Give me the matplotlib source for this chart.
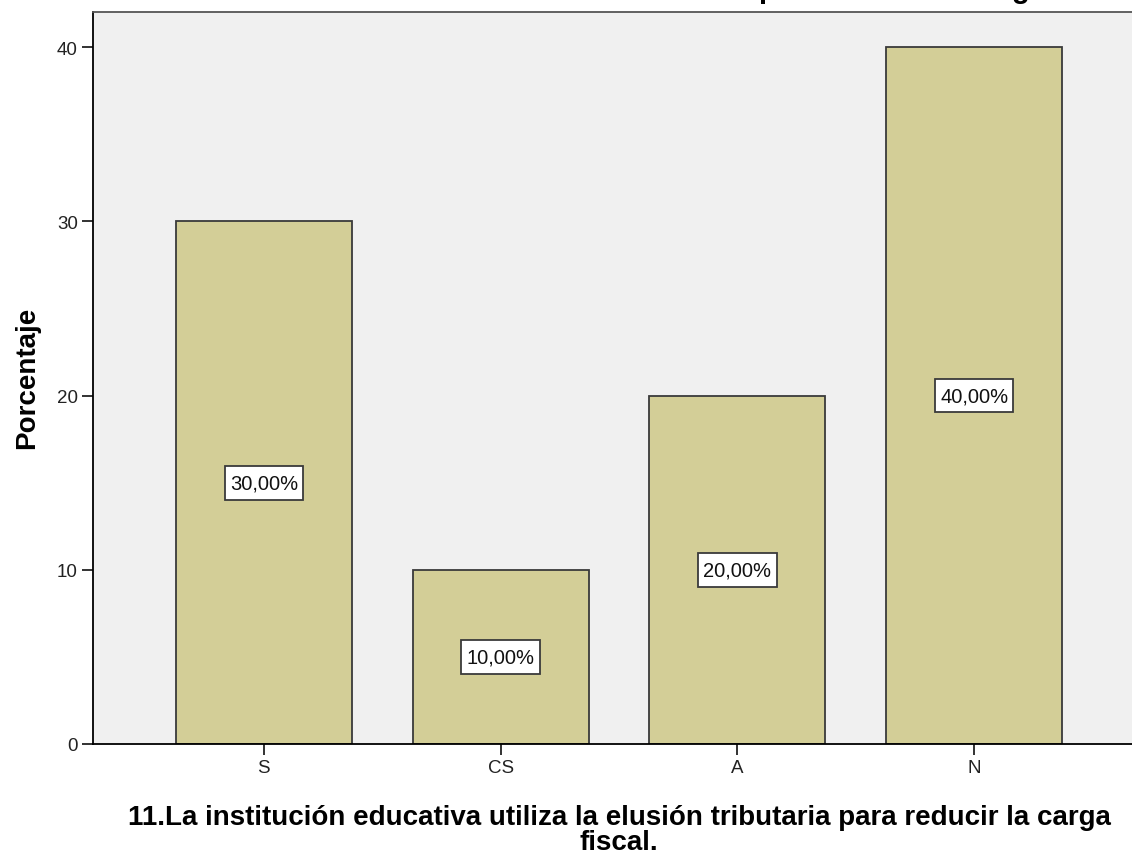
import matplotlib
matplotlib.use("Agg")
import matplotlib.pyplot as plt
from matplotlib.path import Path

categories = ["S", "CS", "A", "N"]
percentages = [30.0, 10.0, 20.0, 40.0]
value_labels = ["30,00%", "10,00%", "20,00%", "40,00%"]
y_ticks = [0, 10, 20, 30, 40]
question_lines = ["11.La institución educativa utiliza la elusión tributaria para reducir la carga",
                  "fiscal."]
title_text = "11.La institución educativa utiliza la elusión tributaria para reducir la carga fiscal."

plt.rcParams["font.family"] = ["Liberation Sans", "DejaVu Sans"]


def label_box(x0, y0, width, height, mutation_size):
    """Rectangular box with separate horizontal and vertical padding."""
    px = 0.26 * mutation_size
    py = 0.37 * mutation_size
    x0, y0 = x0 - px, y0 - py
    x1, y1 = x0 + width + 2 * px, y0 + height + 2 * py
    return Path([(x0, y0), (x1, y0), (x1, y1), (x0, y1), (x0, y0)], closed=True)


W, H = 1132, 854
fig = plt.figure(figsize=(W / 100, H / 100), dpi=100)
fig.patch.set_facecolor("white")
ax = fig.add_axes([93 / W, 1 - 745 / H, (1145 - 93) / W, (745 - 12.7) / H])
ax.set_facecolor("#F0F0F0")

x = list(range(len(categories)))
ax.bar(x, percentages, width=0.744, color="#D3CE97", edgecolor="#3a3a3a", linewidth=1.3, zorder=2)

for xi, val, lab in zip(x, percentages, value_labels):
    ax.text(xi, val / 2, lab, ha="center", va="center", fontsize=14.5, color="#111111", zorder=3,
            bbox=dict(boxstyle=label_box, facecolor="white", edgecolor="#3a3a3a", linewidth=1.3))

ax.set_xlim(-0.722, 3.722)
ax.set_ylim(0, 42.03)
ax.set_xticks(x)
ax.set_xticklabels(categories, fontsize=13.5, color="#222222")
ax.set_yticks(y_ticks)
ax.set_yticklabels([str(t) for t in y_ticks], fontsize=13.5, color="#222222")
ax.tick_params(axis="both", length=8, width=1.3, color="#222222", pad=3)

ax.spines["right"].set_visible(False)
ax.spines["left"].set_linewidth(1.3)
ax.spines["bottom"].set_linewidth(1.3)
ax.spines["top"].set_linewidth(1.3)
ax.spines["top"].set_color("#555555")

fig.text(34 / W, 1 - 377.5 / H, "Porcentaje", rotation=90, rotation_mode="anchor",
         ha="center", va="baseline", fontsize=20, fontweight="bold")

for line, base_y in zip(question_lines, [825, 850]):
    fig.text(619 / W, 1 - base_y / H, line, ha="center", va="baseline", fontsize=20,
             fontweight="bold")

# Chart title sits above the visible canvas; only its descenders remain
fig.text(575 / W, 1 + 2 / H, title_text, ha="center", va="baseline", fontsize=21,
         fontweight="bold")

fig.savefig("out.png", dpi=100)
